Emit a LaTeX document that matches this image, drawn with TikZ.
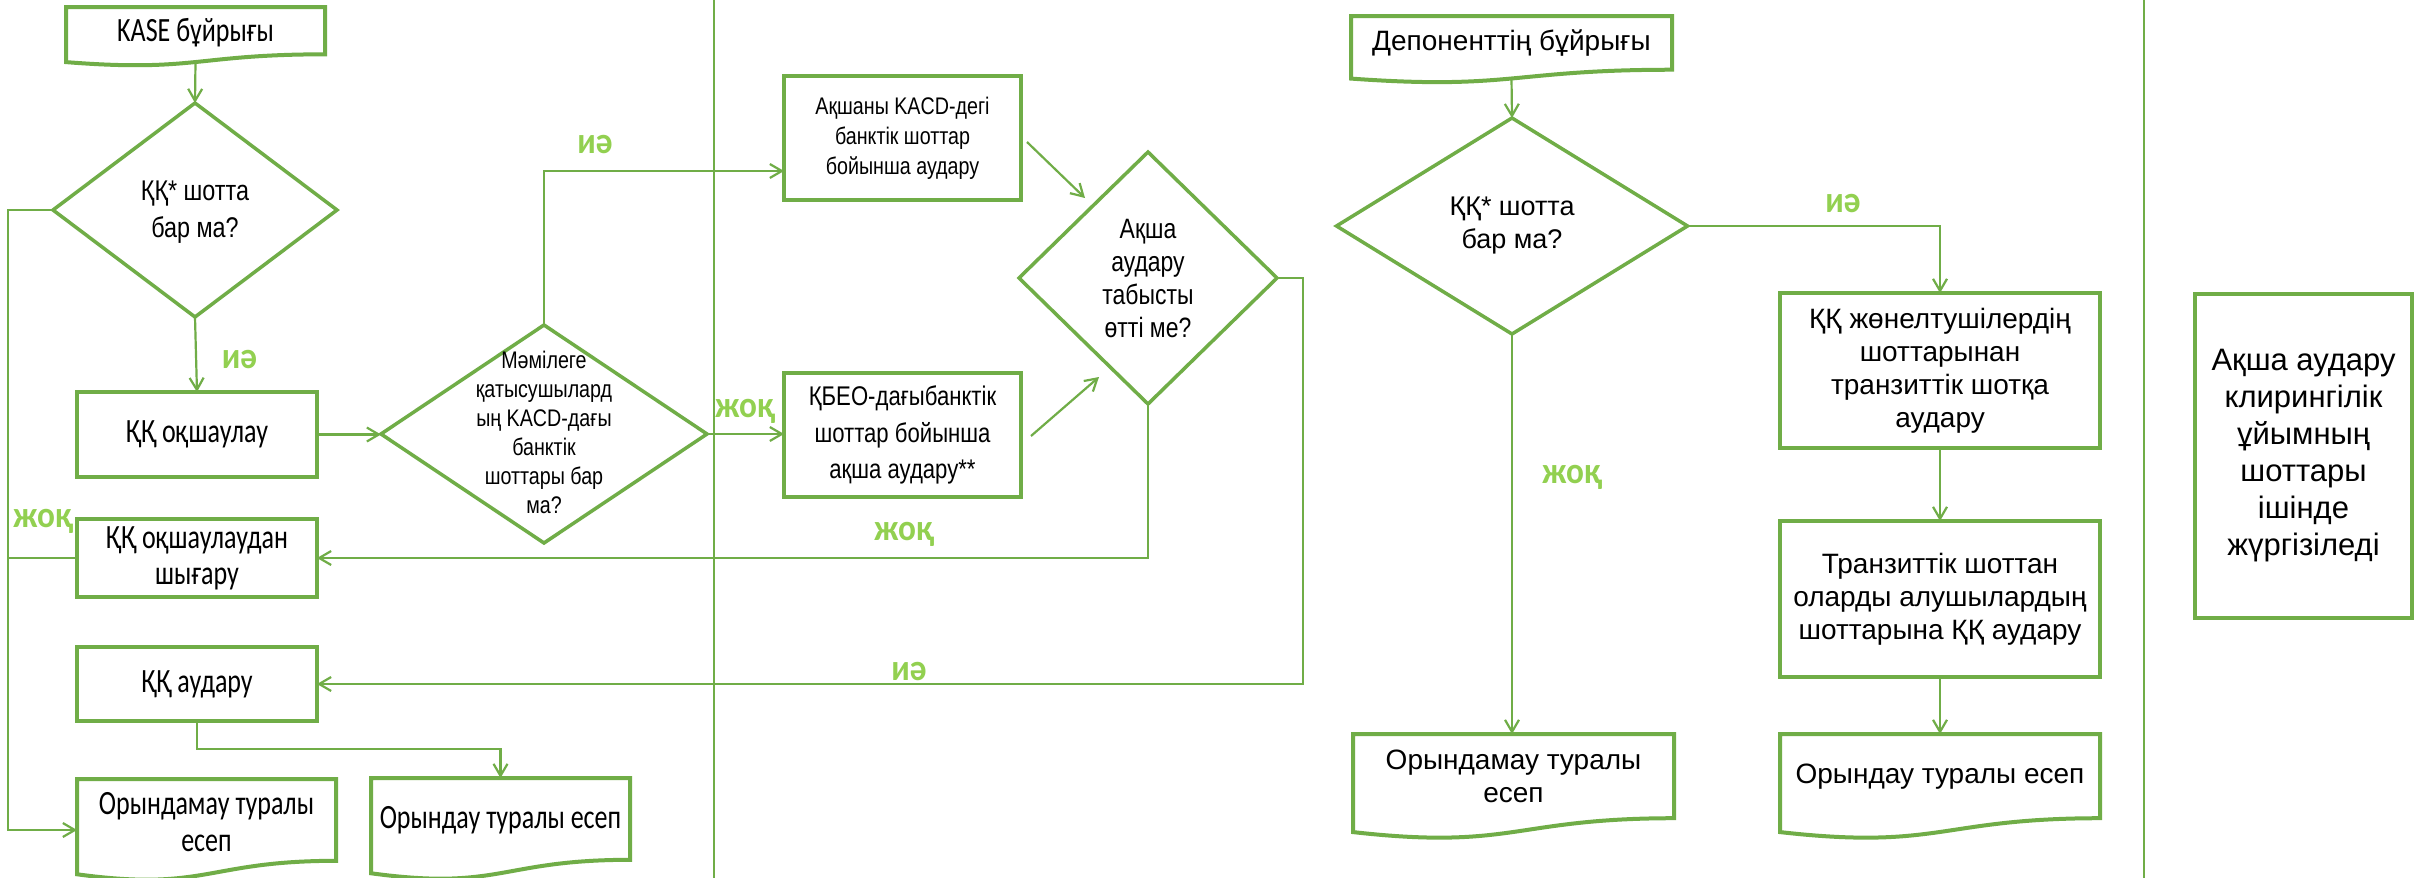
\documentclass[tikz,border=0pt]{standalone}
\usepackage{fontspec}
\setmainfont{Liberation Sans}
\newfontfamily\arialf{Liberation Sans}
\newfontfamily\narrowf[FakeStretch=0.82]{Liberation Sans}
\newfontfamily\calf[FakeStretch=0.765]{Carlito}
\newfontfamily\lblf[FakeStretch=0.9]{Carlito}
\usetikzlibrary{arrows.meta,shapes.geometric,calc}
\definecolor{gr}{HTML}{70AD47}
\definecolor{lg}{HTML}{92D050}
\newcommand\fsz[2]{\fontsize{#1pt}{#2pt}\selectfont}
\newcommand\docpath[1]{\draw[docline] (#1.north west) -- (#1.north east) -- ($(#1.north east)!0.802!(#1.south east)$) .. controls ($(#1.north)!0.802!(#1.south)$) and ($(#1.north)!1.107!(#1.south)$) .. ($(#1.north west)!0.934!(#1.south west)$) -- cycle;}
\tikzset{
 box/.style={draw=gr, line width=4pt, rectangle, inner sep=2pt, outer sep=0pt, align=center, text=black},
 ghost/.style={rectangle, inner sep=0pt, outer sep=0pt, draw=none},
 dia/.style={diamond, draw=gr, line width=3.5pt, inner sep=0pt, outer sep=0pt},
 txt/.style={align=center, inner sep=0pt, text=black},
 conn/.style={draw=gr, line width=2.2pt, -{Straight Barb[length=12pt,width=14pt]}},
 plain/.style={draw=gr, line width=2.2pt},
 sep/.style={draw=gr, line width=2pt},
 lbl/.style={text=lg, font=\lblf\bfseries\fsz{37}{42}, anchor=base, inner sep=0pt},
 docline/.style={draw=gr, line width=4pt, line join=miter},
 calt/.style={font=\calf\fsz{34}{37}},
 rgt/.style={font=\arialf\fsz{28}{33}},
}
\begin{document}
\begin{tikzpicture}[x=1pt,y=-1pt]
\useasboundingbox[fill=white] (0,0) rectangle (2415,878);
% separators
\draw[sep] (714,0) -- (714,878);
\draw[sep] (2144,0) -- (2144,878);
\coordinate (railL) at (8,0);

% ===== left panel =====
\node[ghost, minimum width=259pt, minimum height=59pt] (kase) at (195.5,36.5) {};
\docpath{kase}
\node[txt, calt] (kaset) at (195.5,33) {KASE бұйрығы};

\node[dia, minimum width=284pt, minimum height=214pt] (d1) at (195,210) {};
\node[txt, font=\narrowf\fsz{28.5}{37}] (d1t) at (195,212) {ҚҚ* шотта\\бар ма?};

\node[box, calt, minimum width=240pt, minimum height=85pt] (b1) at (197,434.5) {ҚҚ оқшаулау};
\node[box, font=\calf\fsz{34}{36}, minimum width=240pt, minimum height=78pt] (b2) at (197,558) {ҚҚ оқшаулаудан\\шығару};
\node[box, calt, minimum width=240pt, minimum height=74pt] (b3) at (197,684) {ҚҚ аудару};

\node[ghost, minimum width=259pt, minimum height=102pt] (doc1) at (206.5,830) {};
\docpath{doc1}
\node[txt, calt] (doc1t) at (206.5,822) {Орындамау туралы\\есеп};
\node[ghost, minimum width=259pt, minimum height=102pt] (doc2) at (500.5,829) {};
\docpath{doc2}
\node[txt, calt] (doc2t) at (500.5,820) {Орындау туралы есеп};

\node[dia, minimum width=326pt, minimum height=218pt] (d2) at (544,434) {};
\node[txt, font=\narrowf\fsz{24}{29}] (d2t) at (544,432) {Мәмілеге\\қатысушылард\\ың KACD-дағы\\банктік\\шоттары бар\\ма?};

% ===== middle panel =====
\node[box, font=\narrowf\fsz{24}{30}, minimum width=237pt, minimum height=124pt] (b4) at (902.5,138) {Ақшаны KACD-дегі\\банктік шоттар\\бойынша аудару};
\node[box, font=\narrowf\fsz{27}{36.5}, minimum width=237pt, minimum height=124pt] (b5) at (902.5,435) {ҚБЕО-дағыбанктік\\шоттар бойынша\\ақша аудару**};
\node[dia, minimum width=258pt, minimum height=252pt] (d3) at (1148,278) {};
\node[txt, font=\narrowf\fsz{28}{33}] (d3t) at (1148,279) {Ақша\\аудару\\табысты\\өтті ме?};

% ===== right panel =====
\node[ghost, minimum width=321pt, minimum height=67pt] (dep) at (1511.5,49.5) {};
\docpath{dep}
\node[txt, rgt] (dept) at (1511.5,43) {Депоненттің бұйрығы};
\node[dia, minimum width=351pt, minimum height=216pt] (d4) at (1512,226) {};
\node[txt, font=\arialf\fsz{27}{33}] (d4t) at (1512,226) {ҚҚ* шотта\\бар ма?};
\node[box, rgt, minimum width=320pt, minimum height=155pt] (b6) at (1940,370.5) {ҚҚ жөнелтушілердің\\шоттарынан\\транзиттік шотқа\\аудару};
\node[box, rgt, minimum width=320pt, minimum height=156pt] (b7) at (1940,599) {Транзиттік шоттан\\оларды алушылардың\\шоттарына ҚҚ аудару};
\node[ghost, minimum width=321pt, minimum height=105pt] (doc3) at (1513.5,786.5) {};
\docpath{doc3}
\node[txt, rgt] (doc3t) at (1513.5,776) {Орындамау туралы\\есеп};
\node[ghost, minimum width=320pt, minimum height=105pt] (doc4) at (1940,786.5) {};
\docpath{doc4}
\node[txt, rgt] (doc4t) at (1940,777) {Орындау туралы есеп};

\node[box, font=\arialf\fsz{31}{37}, minimum width=217pt, minimum height=324pt] (b8) at (2303.5,456) {Ақша аудару\\клирингілік\\ұйымның\\шоттары\\ішінде\\жүргізіледі};

% ===== connectors =====
\draw[conn] ($(kase.north)!0.93!(kase.south)$) -- (d1.north);
\draw[conn] (d1.south) -- (b1.north);
\draw[conn] (d1.west) -- (d1.west -| railL) |- (doc1.west);
\draw[plain] (b2.west) -- (b2.west -| railL);
\draw[conn] (b1.east) -- (b1.east -| d2.west);
\draw[conn] (d2.north) |- ($(b4.west)+(0,33)$);
\draw[conn] (d2.east) -- (d2.east -| b5.west);
\draw[conn] ($(b4.east)+(6,4)$) -- ($(b4.east)+(64,60)$);
\draw[conn] ($(b5.east)+(10,1)$) -- ($(b5.east)+(78,-58)$);
\draw[conn] (d3.south) |- (b2.east);
\draw[conn] (d3.east) -- ++(26,0) |- (b3.east);
\draw[conn] (b3.south) -- ++(0,28) -| (doc2.north);

\draw[conn] ($(dep.north)!0.93!(dep.south)$) -- (d4.north);
\draw[conn] (d4.east) -| (b6.north);
\draw[conn] (d4.south) -- (d4.south |- doc3.north);
\draw[conn] (b6.south) -- (b7.north);
\draw[conn] (b7.south) -- (doc4.north);

% ===== labels =====
\node[lbl] (l1) at (239.5,368) {иә};
\node[lbl] (l2) at (43,527) {жоқ};
\node[lbl] (l3) at (595,153) {иә};
\node[lbl] (l4) at (745,417) {жоқ};
\node[lbl] (l5) at (904,540) {жоқ};
\node[lbl] (l6) at (909,680) {иә};
\node[lbl] (l7) at (1843,212) {иә};
\node[lbl] (l8) at (1572,483) {жоқ};
\end{tikzpicture}
\end{document}
